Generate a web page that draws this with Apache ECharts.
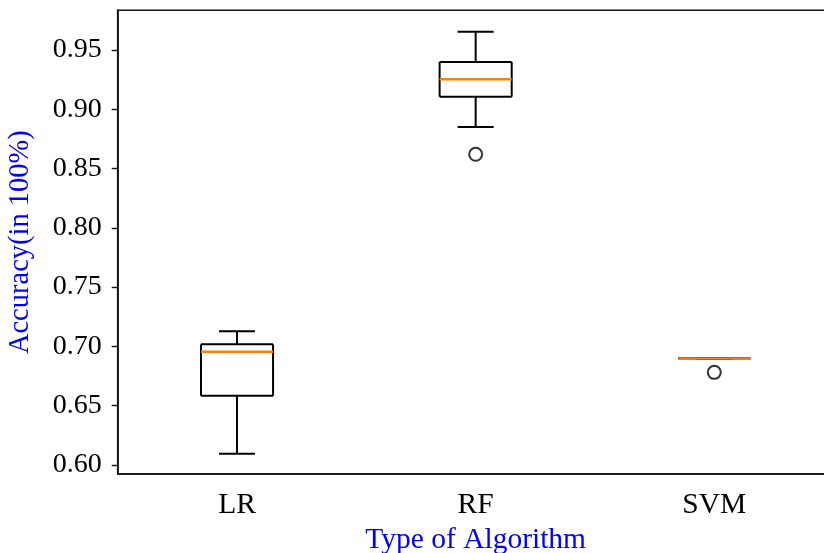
<!DOCTYPE html>
<html>
<head>
<meta charset="utf-8">
<script src="https://cdn.jsdelivr.net/npm/echarts@6/dist/echarts.min.js"></script>
<style>html,body{margin:0;padding:0;background:#fff}#c{width:824px;height:553px}</style>
</head>
<body>
<div id="c"></div>
<script>
const categories = ['LR', 'RF', 'SVM'];
const whiskerLow  = [0.6093, 0.8850, 0.6898];
const q1          = [0.6582, 0.9106, 0.6898];
const medians     = [0.6954, 0.9253, 0.6898];
const q3          = [0.7016, 0.9399, 0.6898];
const whiskerHigh = [0.7126, 0.9654, 0.6898];
const outliers    = [[], [0.8620], [0.6780]];
const yTicks = [0.60, 0.65, 0.70, 0.75, 0.80, 0.85, 0.90, 0.95];

const boxData = categories.map((c, i) => [i, whiskerLow[i], q1[i], medians[i], q3[i], whiskerHigh[i]]);
const outlierData = [];
outliers.forEach((arr, i) => arr.forEach(v => outlierData.push([i, v])));

const FONT = 'Liberation Serif';
const chart = echarts.init(document.getElementById('c'), null, {renderer: 'canvas'});
chart.setOption({
  animation: false,
  backgroundColor: '#fff',
  grid: {left: 117.7, right: -9.6, top: 10.3, bottom: 79, containLabel: false, outerBoundsMode: 'none',
    show: true, borderColor: '#111', borderWidth: 1.6, backgroundColor: 'transparent'},
  xAxis: {
    type: 'category',
    data: categories,
    boundaryGap: true,
    name: 'Type of Algorithm',
    nameLocation: 'middle',
    nameGap: 51,
    nameTextStyle: {color: '#0000ff', fontFamily: FONT, fontSize: 29.5},
    axisLine: {lineStyle: {color: '#111', width: 1.6}},
    axisTick: {alignWithLabel: true, length: 6, lineStyle: {color: '#111', width: 1.4}},
    axisLabel: {color: '#000', fontFamily: FONT, fontSize: 29.5, margin: 16},
    splitLine: {show: false}
  },
  yAxis: {
    type: 'value',
    min: 0.5922,
    max: 0.9835,
    name: 'Accuracy(in 100%)',
    nameLocation: 'middle',
    nameGap: 83,
    nameTextStyle: {color: '#0000ff', fontFamily: FONT, fontSize: 28.5},
    axisLine: {show: true, lineStyle: {color: '#111', width: 1.6}},
    axisTick: {show: true, length: 6, customValues: yTicks, lineStyle: {color: '#111', width: 1.4}},
    axisLabel: {color: '#000', fontFamily: FONT, fontSize: 28, margin: 16, customValues: yTicks,
      formatter: v => v.toFixed(2)},
    splitLine: {show: false}
  },
  series: [
    {
      type: 'custom',
      data: boxData,
      encode: {x: 0, y: [1, 2, 3, 4, 5]},
      renderItem: function (params, api) {
        const x = api.value(0);
        const pLo = api.coord([x, api.value(1)]);
        const pQ1 = api.coord([x, api.value(2)]);
        const pMed = api.coord([x, api.value(3)]);
        const pQ3 = api.coord([x, api.value(4)]);
        const pHi = api.coord([x, api.value(5)]);
        const band = api.size([1, 0])[0];
        const bw = band * 0.302;
        const cw = bw / 2;
        const cx = pMed[0];
        const black = {stroke: '#000', lineWidth: 2, fill: null};
        return {
          type: 'group',
          children: [
            {type: 'line', shape: {x1: cx, y1: pQ1[1], x2: cx, y2: pLo[1]}, style: black},
            {type: 'line', shape: {x1: cx, y1: pQ3[1], x2: cx, y2: pHi[1]}, style: black},
            {type: 'line', shape: {x1: cx - cw / 2, y1: pLo[1], x2: cx + cw / 2, y2: pLo[1]}, style: black},
            {type: 'line', shape: {x1: cx - cw / 2, y1: pHi[1], x2: cx + cw / 2, y2: pHi[1]}, style: black},
            {type: 'line', shape: {x1: cx - bw / 2, y1: pQ3[1], x2: cx + bw / 2, y2: pQ3[1]}, style: black},
            {type: 'line', shape: {x1: cx - bw / 2, y1: pQ1[1], x2: cx + bw / 2, y2: pQ1[1]}, style: black},
            {type: 'line', shape: {x1: cx - bw / 2, y1: pQ3[1], x2: cx - bw / 2, y2: pQ1[1]}, style: black},
            {type: 'line', shape: {x1: cx + bw / 2, y1: pQ3[1], x2: cx + bw / 2, y2: pQ1[1]}, style: black},
            {type: 'line', shape: {x1: cx - bw / 2, y1: pMed[1], x2: cx + bw / 2, y2: pMed[1]}, style: {stroke: '#ff7f0e', lineWidth: 2.4}}
          ]
        };
      }
    },
    {
      type: 'scatter',
      data: outlierData,
      symbol: 'circle',
      symbolSize: 13,
      itemStyle: {color: '#fff', borderColor: '#000', borderWidth: 2}
    }
  ]
});
</script>
</body>
</html>
